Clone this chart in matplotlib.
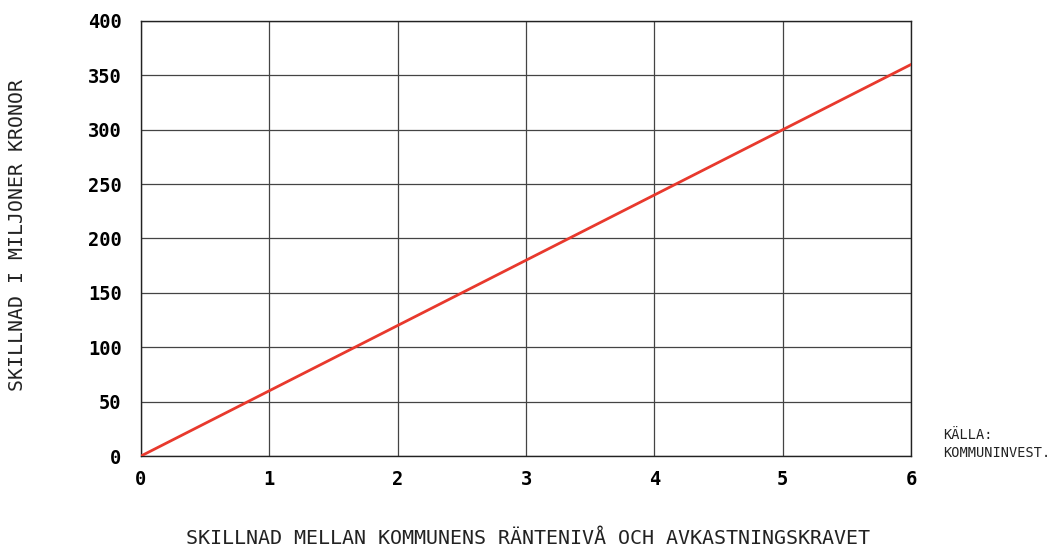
import numpy as np
import matplotlib.pyplot as plt

# difference in rate (percentage points) vs difference in million kronor
x_vals = [0, 1, 2, 3, 4, 5, 6]
y_vals = [0, 60, 120, 180, 240, 300, 360]
x_ticks = [0, 1, 2, 3, 4, 5, 6]
y_ticks = [0, 50, 100, 150, 200, 250, 300, 350, 400]

plt.rcParams["font.family"] = ["DejaVu Sans Mono"]

fig = plt.figure(figsize=(10.51, 5.47), dpi=100)
ax = fig.add_axes([141 / 1051, 1 - 456 / 547, 770 / 1051, 435 / 547])

ax.plot(x_vals, y_vals, color="#e8392d", linewidth=2, zorder=3)

ax.set_xlim(0, 6)
ax.set_ylim(0, 400)
ax.set_xticks(x_ticks)
ax.set_yticks(y_ticks)
ax.grid(True, color="#444444", linewidth=0.9)
ax.tick_params(length=0, labelsize=13.5)
ax.tick_params(axis="y", pad=14)
ax.tick_params(axis="x", pad=10)
for lab in ax.get_xticklabels() + ax.get_yticklabels():
    lab.set_fontweight("bold")
for s in ax.spines.values():
    s.set_color("#222222")
    s.set_linewidth(1)

fig.text(528 / 1051, 1 - 539 / 547,
         "SKILLNAD MELLAN KOMMUNENS RÄNTENIVÅ OCH AVKASTNINGSKRAVET",
         ha="center", va="center", fontsize=14.4, color="#222222")
fig.text(18 / 1051, 1 - 235 / 547, "SKILLNAD I MILJONER KRONOR",
         ha="center", va="center", rotation=90, fontsize=14.3, color="#222222")
fig.text(943 / 1051, 1 - 444 / 547, "KÄLLA:\nKOMMUNINVEST.",
         ha="left", va="center", fontsize=9.8, color="#222222", linespacing=1.35)

fig.savefig("out.png", dpi=100)
